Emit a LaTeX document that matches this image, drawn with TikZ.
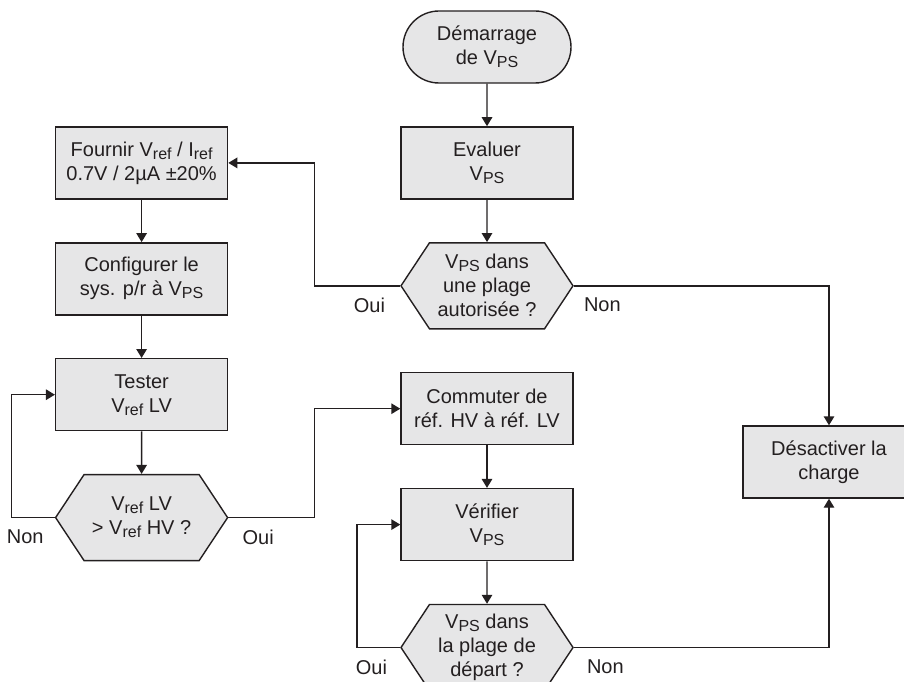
\documentclass[tikz,border=0pt]{standalone}
\usepackage{fontspec}
\setmainfont{Liberation Sans}
\usetikzlibrary{positioning,arrows.meta,calc,shapes.misc,shapes.symbols}
\definecolor{boxgray}{RGB}{230,230,231}
\definecolor{inkgray}{RGB}{35,31,32}
\newcommand{\ind}[1]{\raisebox{-3pt}{\fontsize{16}{16}\selectfont #1}}
\tikzset{
  base/.style={draw=inkgray, line width=1.4pt, fill=boxgray, text=inkgray, align=center,
               font=\fontsize{20}{24}\selectfont, inner sep=2pt},
  term/.style={base, rounded rectangle, minimum width=172pt, minimum height=72pt},
  proc/.style={base, rectangle, minimum width=172pt, minimum height=72pt},
  decision/.style={base, signal, signal to=west and east, signal pointer angle=113,
                   minimum width=172pt, minimum height=86pt},
  flow/.style={-{Triangle[length=9pt,width=10.5pt]}, line width=1.4pt, inkgray},
  ans/.style={font=\fontsize{20}{24}\selectfont, text=inkgray, inner sep=0pt}
}
\begin{document}
\begin{tikzpicture}[x=1pt, y=-1pt, node distance=42.5pt]
  \useasboundingbox (0,0) rectangle (904,682);
  % main column
  \node[term] (start) at (487,47) {Démarrage\\de V\ind{PS}};
  \node[proc, below=of start] (eval) {Evaluer\\V\ind{PS}};
  \node[decision, below=of eval] (q1) {V\ind{PS} dans\\une plage\\autorisée ?};
  \node[proc, below=of q1] (commute) {Commuter de\\réf. HV à réf. LV};
  \node[proc, below=of commute] (verify) {Vérifier\\V\ind{PS}};
  \node[decision, below=of verify] (q3) {V\ind{PS} dans\\la plage de\\départ ?};
  % left column
  \node[proc, left=172pt of eval] (supply) {Fournir V\ind{ref} / I\ind{ref}\\0.7V / 2µA ±20\%};
  \node[proc, below=of supply] (config) {Configurer le\\sys. p/r à V\ind{PS}};
  \node[proc, below=of config] (test) {Tester\\V\ind{ref} LV};
  \node[decision, below=of test] (q2) {V\ind{ref} LV\\> V\ind{ref} HV ?};
  % right
  \node[proc] (stop) at (829,462) {Désactiver la\\charge};
  \coordinate (mid) at ($(supply.east)!.5!(eval.west)$);

  \draw[flow] (start) -- (eval);
  \draw[flow] (eval) -- (q1);
  \draw[flow] (q1.west) -| (mid) -- (supply.east);
  \draw[flow] (q1.east) -| (stop.north);
  \draw[flow] (supply) -- (config);
  \draw[flow] (config) -- (test);
  \draw[flow] (test) -- (q2);
  \draw[flow] (q2.west) -- ++(-43,0) |- (test.west);
  \draw[flow] (q2.east) -- (q2.east -| mid) |- (commute.west);
  \draw[flow] (commute) -- (verify);
  \draw[flow] (verify) -- (q3);
  \draw[flow] (q3.west) -- ++(-43,0) |- (verify.west);
  \draw[flow] (q3.east) -| (stop.south);

  \node[ans, below left=12pt and 15pt of q1.west] (q1yes) {Oui};
  \node[ans, below right=12pt and 10pt of q1.east] (q1no) {Non};
  \node[ans, below left=12pt and 11pt of q2.west] (q2no) {Non};
  \node[ans, below right=12pt and 14pt of q2.east] (q2yes) {Oui};
  \node[ans, below left=12pt and 13pt of q3.west] (q3yes) {Oui};
  \node[ans, below right=12pt and 13pt of q3.east] (q3no) {Non};
\end{tikzpicture}
\end{document}
